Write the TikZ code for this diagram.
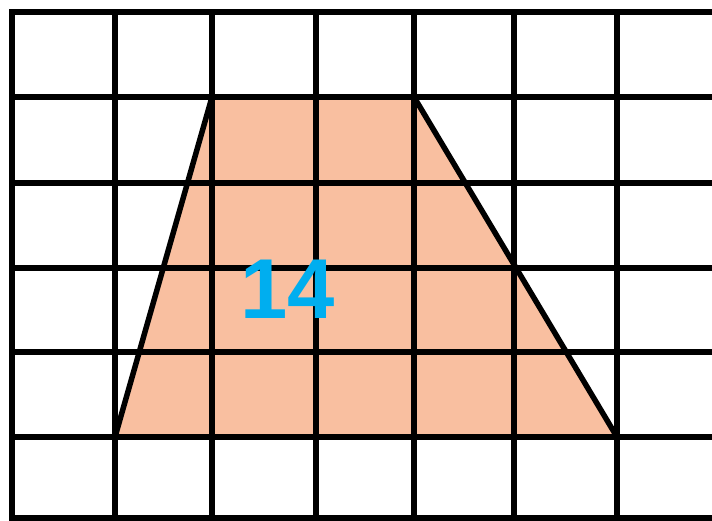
\documentclass[tikz,border=0pt]{standalone}
\usepackage{fontspec}
\setmainfont{Liberation Sans}
\definecolor{peach}{HTML}{F9BFA0}
\definecolor{numblue}{HTML}{00AEEF}
\tikzset{
  gridline/.style={line width=5.5pt, black},
  trapfill/.style={fill=peach, draw=none},
  trapedge/.style={line width=5.5pt, black, line join=miter},
  area/.style={font=\fontsize{85}{85}\selectfont\bfseries, text=numblue, inner sep=0pt}
}
\begin{document}
\begin{tikzpicture}[x=1pt,y=-1pt]
\useasboundingbox (0,0) rectangle (712,520);
\fill[white] (0,0) rectangle (712,520);
\coordinate (A) at (212,97);
\coordinate (B) at (414,97);
\coordinate (C) at (617,437);
\coordinate (D) at (115,437);
\fill[trapfill] (A) -- (B) -- (C) -- (D) -- cycle;
\foreach \x in {12,115,212,316,414,514,617}
  \draw[gridline] (\x,9.3) -- (\x,522);
\foreach \y in {12,97,183,268,352,437,518}
  \draw[gridline] (9.3,\y) -- (714,\y);
\draw[trapedge] (A) -- (B) -- (C) -- (D) -- cycle;
\node[area] (n14) at (287.5,289) {14};
\end{tikzpicture}
\end{document}
